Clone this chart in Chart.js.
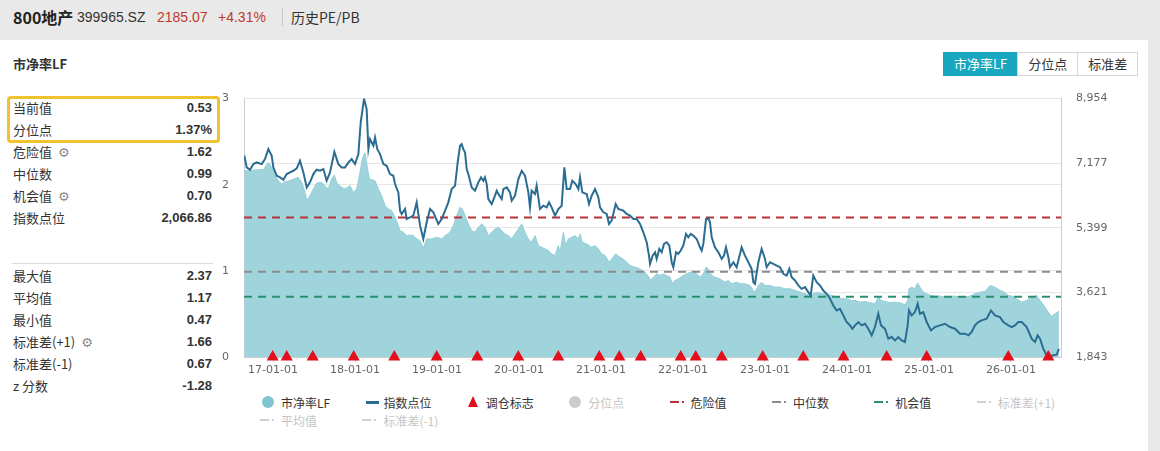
<!DOCTYPE html>
<html>
<head>
<meta charset="utf-8">
<script src="https://cdn.jsdelivr.net/npm/chart.js@4.4.1/dist/chart.umd.min.js"></script>
<style>
    body { margin: 0; width: 1160px; height: 451px; background: #e9e9e9; font-family: "Noto Sans CJK SC", "Noto Sans", sans-serif; color: #333; position: relative; overflow: hidden; }
    .top span { position: absolute; top: 7px; font-size: 14px; line-height: 20px; white-space: nowrap; }
    .top .name { font-weight: 700; font-size: 16px; color: #222; }
    .top .red { color: #c0392b; font-family: "Liberation Sans", Arial, sans-serif; }
    .top .code { font-family: "Liberation Sans", Arial, sans-serif; }
    .top .sep { width: 1px; height: 18px; background: #c8c8c8; top: 8px; }
    .card { position: absolute; left: 0; top: 40px; width: 1148px; height: 420px; background: #fff; }
    .title { position: absolute; left: 13px; top: 54px; font-size: 13px; font-weight: 700; color: #333; }
    .btns { position: absolute; left: 943px; top: 52px; display: flex; height: 24px; }
    .btns div { border: 1px solid #d6d6d6; font-size: 13px; line-height: 22px; padding: 0 10px; background: #fff; color: #333; margin-left: -1px; }
    .btns .on { background: #19a6bf; border-color: #19a6bf; color: #fff; margin-left: 0; }
    .stats .row { position: absolute; left: 13px; width: 199px; height: 20px; font-size: 13px; line-height: 20px; }
    .stats .row b { position: absolute; right: 0; top: 0; font-family: "Liberation Sans", Arial, sans-serif; font-size: 13px; color: #333; }
    .gear { color: #8a8a8a; font-size: 13px; margin-left: 6px; font-family: "DejaVu Sans", sans-serif; }
    .hl { position: absolute; left: 7px; top: 96px; width: 207px; height: 41px; border: 3px solid #f0c22e; border-radius: 4px; }
    .line { position: absolute; left: 12px; top: 263px; width: 201px; height: 1px; background: #dcdcdc; }
    #wrap { position: absolute; left: 200px; top: 77px; width: 950px; height: 310px; }
    .legend { position: absolute; left: 260px; top: 393px; width: 840px; display: flex; flex-wrap: wrap; }
    .legend .it { width: 102.4px; height: 18px; display: flex; align-items: center; font-size: 12px; color: #333; }
    .legend .it.off { color: #c4c4c4; }
    .legend .ic { width: 21px; height: 18px; position: relative; flex: none; }
    .ic .dot { position: absolute; left: 2px; top: 3px; width: 12px; height: 12px; border-radius: 50%; }
    .ic .bar { position: absolute; left: 4px; top: 8px; width: 13px; height: 3px; }
    .ic .tri { position: absolute; left: 3px; top: 3px; width: 0; height: 0; border-left: 5px solid transparent; border-right: 5px solid transparent; border-bottom: 11px solid #e3101b; }
    .ic .dash { position: absolute; left: 0px; top: 8px; width: 9px; height: 2px; }
    .ic .pt { position: absolute; left: 12px; top: 8px; width: 2px; height: 2px; }
</style>
</head>
<body>
<div class="top">
    <span class="name" style="left:13px">800地产</span>
    <span class="code" style="left:77px">399965.SZ</span>
    <span class="red" style="left:157px">2185.07</span>
    <span class="red" style="left:218px">+4.31%</span>
    <span class="sep" style="left:282px"></span>
    <span style="left:291px">历史PE/PB</span>
</div>
<div class="card"></div>
<div class="title">市净率LF</div>
<div class="btns"><div class="on">市净率LF</div><div>分位点</div><div>标准差</div></div>

<div class="stats" id="stats"></div>
<div class="hl"></div>
<div class="line"></div>

<div id="wrap"><canvas id="chartPB" width="950" height="310"></canvas></div>
<div class="legend" id="legend"></div>

<script>
// 统计
const statLabels = ['当前值', '分位点', '危险值', '中位数', '机会值', '指数点位', '最大值', '平均值', '最小值', '标准差(+1)', '标准差(-1)', 'z 分数'];
const statValues = ['0.53', '1.37%', '1.62', '0.99', '0.70', '2,066.86', '2.37', '1.17', '0.47', '1.66', '0.67', '-1.28'];
const statGear = ['危险值', '机会值', '标准差(+1)'];
const statTops = [98, 120, 142, 164, 186, 208, 266, 288, 310, 332, 354, 376];

// 线
const dangerValue = 1.62;
const medianValue = 0.99;
const chanceValue = 0.70;

// x 轴（年份，17 = 2017-01-01）
const xMin = 16.646;
const xMax = 26.61;
const xTicks = [17, 18, 19, 20, 21, 22, 23, 24, 25, 26];
const xTickLabels = ['17-01-01', '18-01-01', '19-01-01', '20-01-01', '21-01-01', '22-01-01', '23-01-01', '24-01-01', '25-01-01', '26-01-01'];
const pbTicks = [0, 1, 2, 3];
const idxTicks = [1843, 3621, 5399, 7177, 8954];

// 市净率LF
const pbYears = [16.65, 16.72, 16.801, 16.882, 16.943, 16.984, 17.024, 17.065, 17.106, 17.146, 17.207, 17.268, 17.309, 17.35, 17.39, 17.411, 17.451, 17.492, 17.532, 17.593, 17.634, 17.675, 17.715, 17.748, 17.776, 17.817, 17.878, 17.939, 17.98, 18.02, 18.053, 18.094, 18.122, 18.15, 18.175, 18.203, 18.244, 18.285, 18.325, 18.366, 18.407, 18.447, 18.488, 18.528, 18.549, 18.589, 18.63, 18.671, 18.711, 18.752, 18.793, 18.833, 18.874, 18.935, 18.996, 19.057,
    19.098, 19.159, 19.199, 19.24, 19.281, 19.309, 19.342, 19.382, 19.423, 19.463, 19.504, 19.545, 19.585, 19.626, 19.667, 19.707, 19.748, 19.789, 19.829, 19.87, 19.911, 19.951, 19.992, 20.033, 20.073, 20.114, 20.154, 20.195, 20.236, 20.276, 20.317, 20.358, 20.398, 20.439, 20.48, 20.5, 20.541, 20.569, 20.602, 20.642, 20.683, 20.724, 20.744, 20.772, 20.825, 20.886, 20.927, 20.968, 21.008, 21.049, 21.098, 21.13, 21.179, 21.232, 21.293, 21.354, 21.415, 21.476, 21.537, 21.585,
    21.598, 21.638, 21.679, 21.72, 21.76, 21.801, 21.841, 21.874, 21.902, 21.943, 22.004, 22.045, 22.085, 22.126, 22.167, 22.207, 22.248, 22.281, 22.309, 22.35, 22.39, 22.451, 22.512, 22.553, 22.593, 22.654, 22.695, 22.756, 22.817, 22.858, 22.878, 22.919, 22.959, 23.0, 23.061, 23.122, 23.183, 23.244, 23.305, 23.366, 23.427, 23.488, 23.549, 23.589, 23.63, 23.691, 23.752, 23.813, 23.874, 23.935, 23.996, 24.057,
    24.098, 24.159, 24.22, 24.28, 24.341, 24.382, 24.415, 24.463, 24.524, 24.585, 24.646, 24.707, 24.74, 24.756, 24.789, 24.829, 24.862, 24.89, 24.931, 24.972, 25.024, 25.073, 25.134, 25.195, 25.256, 25.317, 25.378, 25.439, 25.5, 25.561, 25.622, 25.683, 25.744, 25.805, 25.866, 25.907, 25.968, 26.008, 26.069, 26.13, 26.191, 26.252, 26.313, 26.354, 26.415, 26.455, 26.496, 26.537, 26.585];
const pbValues = [2.162, 2.162, 2.174, 2.174, 2.259, 2.201, 2.104, 2.046, 2.008, 2.035, 2.046, 2.073, 2.085, 2.027, 1.911, 1.815, 1.873, 1.95, 2.019, 2.027, 1.989, 1.95, 2.066, 2.112, 2.027, 1.981, 1.95, 1.989, 1.911, 1.95, 2.104, 2.317, 2.37, 2.201, 2.066, 2.058, 2.046, 1.95, 1.873, 1.757, 1.718, 1.699, 1.622, 1.525, 1.467, 1.448, 1.409, 1.417, 1.409, 1.371, 1.351, 1.263, 1.371, 1.371, 1.39, 1.371,
    1.409, 1.448, 1.525, 1.641, 1.738, 1.718, 1.641, 1.545, 1.467, 1.448, 1.506, 1.545, 1.506, 1.409, 1.448, 1.487, 1.506, 1.467, 1.429, 1.409, 1.371, 1.429, 1.487, 1.545, 1.448, 1.371, 1.332, 1.409, 1.294, 1.274, 1.255, 1.236, 1.197, 1.178, 1.294, 1.216, 1.448, 1.294, 1.371, 1.39, 1.409, 1.371, 1.429, 1.332, 1.313, 1.274, 1.294, 1.255, 1.197, 1.178, 1.101, 1.139, 1.197, 1.158, 1.12, 1.062, 1.043, 1.023, 0.985, 0.927,
    0.888, 0.927, 0.965, 0.946, 0.965, 0.946, 0.927, 0.85, 0.888, 0.907, 0.946, 0.965, 0.985, 0.985, 0.965, 0.927, 0.965, 1.043, 1.023, 0.946, 0.927, 0.907, 0.869, 0.888, 0.85, 0.869, 0.85, 0.85, 0.83, 0.772, 0.753, 0.83, 0.869, 0.83, 0.83, 0.811, 0.811, 0.792, 0.792, 0.772, 0.753, 0.734, 0.714, 0.734, 0.753, 0.734, 0.734, 0.714, 0.695, 0.676, 0.676, 0.657,
    0.657, 0.637, 0.645, 0.63, 0.618, 0.695, 0.657, 0.645, 0.63, 0.637, 0.63, 0.606, 0.657, 0.792, 0.811, 0.792, 0.861, 0.811, 0.753, 0.734, 0.714, 0.707, 0.707, 0.695, 0.703, 0.707, 0.695, 0.695, 0.707, 0.734, 0.753, 0.761, 0.83, 0.811, 0.772, 0.761, 0.714, 0.707, 0.676, 0.637, 0.657, 0.695, 0.714, 0.657, 0.579, 0.521, 0.47, 0.502, 0.53];

// 指数点位
const idxYears = [16.65, 16.679, 16.72, 16.76, 16.801, 16.862, 16.902, 16.943, 16.984, 17.004, 17.045, 17.085, 17.126, 17.167, 17.207, 17.248, 17.289, 17.329, 17.37, 17.411, 17.451, 17.492, 17.532, 17.573, 17.614, 17.654, 17.695, 17.748, 17.797, 17.837, 17.878, 17.919, 17.959, 18.0, 18.041, 18.069, 18.11, 18.142, 18.163, 18.183, 18.224, 18.244, 18.272, 18.305, 18.346, 18.386, 18.427, 18.467, 18.488, 18.528, 18.549, 18.569, 18.61, 18.63, 18.671, 18.711, 18.752, 18.793, 18.833, 18.874, 18.915, 18.955, 19.016, 19.057,
    19.098, 19.138, 19.179, 19.22, 19.252, 19.281, 19.301, 19.321, 19.342, 19.362, 19.382, 19.423, 19.463, 19.504, 19.537, 19.565, 19.585, 19.606, 19.626, 19.667, 19.707, 19.728, 19.748, 19.789, 19.809, 19.85, 19.89, 19.911, 19.951, 19.992, 20.033, 20.073, 20.114, 20.134, 20.154, 20.195, 20.215, 20.256, 20.297, 20.337, 20.366, 20.398, 20.439, 20.48, 20.52, 20.553, 20.581, 20.622, 20.65, 20.691, 20.724, 20.744, 20.772, 20.825, 20.854, 20.886, 20.927, 20.968, 20.988, 21.029, 21.069, 21.098, 21.13, 21.179, 21.211, 21.272, 21.313, 21.354, 21.394, 21.435, 21.476, 21.516, 21.557, 21.585,
    21.598, 21.63, 21.659, 21.679, 21.711, 21.74, 21.768, 21.801, 21.833, 21.862, 21.882, 21.915, 21.943, 21.972, 22.004, 22.037, 22.065, 22.094, 22.126, 22.167, 22.207, 22.228, 22.248, 22.281, 22.309, 22.329, 22.35, 22.39, 22.431, 22.472, 22.5, 22.524, 22.553, 22.573, 22.614, 22.654, 22.675, 22.715, 22.756, 22.797, 22.837, 22.858, 22.878, 22.919, 22.959, 23.0, 23.02, 23.061, 23.102, 23.142, 23.183, 23.224, 23.264, 23.297, 23.325, 23.366, 23.407, 23.447, 23.488, 23.528, 23.557, 23.589, 23.63, 23.671, 23.711, 23.752, 23.793, 23.833, 23.874, 23.915, 23.955, 23.996, 24.037, 24.065,
    24.098, 24.138, 24.179, 24.22, 24.26, 24.301, 24.341, 24.382, 24.415, 24.463, 24.504, 24.545, 24.585, 24.626, 24.667, 24.707, 24.74, 24.756, 24.789, 24.829, 24.862, 24.89, 24.931, 24.972, 25.024, 25.073, 25.134, 25.195, 25.256, 25.317, 25.378, 25.439, 25.48, 25.52, 25.561, 25.602, 25.642, 25.703, 25.756, 25.805, 25.866, 25.907, 25.968, 26.008, 26.049, 26.089, 26.13, 26.191, 26.252, 26.293, 26.325, 26.354, 26.394, 26.435, 26.476, 26.516, 26.557, 26.585];
const idxValues = [7380, 7060, 6996, 7151, 7197, 7151, 7289, 7563, 7380, 7060, 6831, 6785, 6721, 6877, 6923, 6968, 7032, 7243, 6923, 6511, 6648, 6877, 6996, 6968, 7014, 6694, 6923, 7490, 7151, 7060, 7060, 7197, 7289, 7151, 7426, 8295, 8954, 8661, 7563, 7838, 7655, 7883, 7563, 7426, 7151, 7106, 6877, 6831, 6602, 6373, 5870, 5779, 5916, 5641, 5687, 5733, 6099, 5458, 5092, 5550, 5916, 5824, 5504, 5641,
    5870, 6099, 6465, 6556, 7197, 7655, 7700, 7563, 7471, 7014, 6877, 6511, 6419, 6648, 6785, 6694, 6785, 6602, 6190, 6053, 6282, 6419, 6328, 6190, 6465, 6511, 6373, 6145, 6282, 6739, 6968, 6831, 6373, 5962, 6419, 6328, 6556, 5916, 6007, 5962, 6099, 5962, 5733, 5916, 6007, 7060, 6465, 6465, 6694, 6602, 6465, 6785, 6373, 6328, 6053, 6282, 6465, 6236, 5962, 5824, 5779, 5504, 5596, 6053, 5916, 5870, 5779, 5733, 5641, 5641, 5504, 5275, 5001, 4634,
    4406, 4634, 4726, 4543, 4817, 4726, 4955, 5001, 4909, 4451, 4314, 4726, 4680, 4772, 4909, 5229, 5138, 5229, 5184, 5092, 4863, 4772, 4955, 5641, 5660, 5550, 5138, 4863, 4726, 4543, 4634, 4863, 4589, 4314, 4451, 4314, 4497, 4863, 4634, 4451, 4268, 3902, 3857, 4451, 4817, 4543, 4314, 4451, 4406, 4360, 4314, 4131, 4085, 4268, 4040, 3948, 3811, 3719, 3765, 3628, 3536, 4085, 3902, 3811, 3673, 3582, 3445, 3262, 3124, 3170, 2987, 2804, 2713, 2621,
    2713, 2804, 2713, 2758, 2621, 2438, 2667, 3033, 2713, 2621, 2347, 2392, 2301, 2392, 2301, 2255, 2713, 3124, 2987, 3079, 3307, 3033, 3079, 2804, 2575, 2667, 2713, 2758, 2667, 2621, 2484, 2484, 2438, 2529, 2713, 2804, 2850, 2896, 3124, 2987, 2941, 2804, 2713, 2667, 2713, 2804, 2804, 2667, 2347, 2255, 2438, 2347, 2072, 1889, 1862, 1889, 1907, 2067];

// 调仓标志
const tradeMarks = [16.996, 17.167, 17.484, 17.984, 18.479, 18.996, 19.491, 19.991, 20.479, 20.979, 21.223, 21.484, 21.972, 22.155, 22.472, 22.972, 23.467, 23.957, 24.484, 24.972, 25.967, 26.455];

// 图例
const legendItems = [
    { name: '市净率LF', icon: 'dot', color: '#7fc6d1', on: true },
    { name: '指数点位', icon: 'bar', color: '#2b6d92', on: true },
    { name: '调仓标志', icon: 'tri', color: '#e3101b', on: true },
    { name: '分位点', icon: 'dot', color: '#cccccc', on: false },
    { name: '危险值', icon: 'dash', color: '#b8323a', on: true },
    { name: '中位数', icon: 'dash', color: '#8c8c8c', on: true },
    { name: '机会值', icon: 'dash', color: '#2b9070', on: true },
    { name: '标准差(+1)', icon: 'dash', color: '#d0d0d0', on: false },
    { name: '平均值', icon: 'dash', color: '#d0d0d0', on: false },
    { name: '标准差(-1)', icon: 'dash', color: '#d0d0d0', on: false },
];

function montarEstatisticas() {
    let html = '';
    statLabels.forEach((l, i) => {
        let gear = statGear.includes(l) ? '<span class="gear">⚙</span>' : '';
        html += '<div class="row" style="top:' + statTops[i] + 'px">' + l + gear + '<b>' + statValues[i] + '</b></div>';
    });
    document.getElementById('stats').innerHTML = html;
}

function montarLegenda() {
    let html = '';
    legendItems.forEach(it => {
        let ic = '';
        if (it.icon === 'dot') ic = '<span class="dot" style="background:' + it.color + '"></span>';
        else if (it.icon === 'bar') ic = '<span class="bar" style="background:' + it.color + '"></span>';
        else if (it.icon === 'tri') ic = '<span class="tri"></span>';
        else ic = '<span class="dash" style="background:' + it.color + '"></span><span class="pt" style="background:' + it.color + '"></span>';
        html += '<div class="it' + (it.on ? '' : ' off') + '"><span class="ic">' + ic + '</span>' + it.name + '</div>';
    });
    document.getElementById('legend').innerHTML = html;
}

function linhaRef(valor, cor) {
    return {
        data: [{ x: xMin, y: valor }, { x: xMax, y: valor }],
        yAxisID: 'y',
        borderColor: cor,
        borderWidth: 2,
        borderDash: [8, 6],
        pointRadius: 0,
        fill: false,
    };
}

function desenharGrafico() {
    let tickFont = { family: 'DejaVu Sans', size: 11 };
    new Chart(document.getElementById('chartPB'), {
        type: 'line',
        data: {
            datasets: [
                {
                    data: tradeMarks.map(x => ({ x: x, y: 0 })),
                    yAxisID: 'y',
                    showLine: false,
                    pointStyle: 'triangle',
                    pointRadius: 7,
                    pointBackgroundColor: '#e3101b',
                    pointBorderWidth: 0,
                    clip: false,
                },
                {
                    data: idxYears.map((x, i) => ({ x: x, y: idxValues[i] })),
                    yAxisID: 'y2',
                    borderColor: '#2b6d92',
                    borderWidth: 2,
                    pointRadius: 0,
                    tension: 0,
                    fill: false,
                },
                linhaRef(dangerValue, '#b8323a'),
                linhaRef(medianValue, '#8c8c8c'),
                linhaRef(chanceValue, '#2b9070'),
                {
                    data: pbYears.map((x, i) => ({ x: x, y: pbValues[i] })),
                    yAxisID: 'y',
                    borderColor: '#92cdd6',
                    borderWidth: 1,
                    backgroundColor: '#a0d4dc',
                    pointRadius: 0,
                    tension: 0,
                    fill: 'origin',
                },
            ]
        },
        options: {
            responsive: false,
            animation: false,
            layout: { padding: { top: 3, left: 0, right: 0, bottom: 0 } },
            plugins: { legend: { display: false }, tooltip: { enabled: false } },
            scales: {
                x: {
                    type: 'linear',
                    min: xMin,
                    max: xMax,
                    afterBuildTicks: s => { s.ticks = xTicks.map(v => ({ value: v })); },
                    afterFit: s => { s.height = 30; },
                    grid: { drawOnChartArea: false, tickLength: 5, tickColor: '#cccccc' },
                    border: { color: '#cccccc' },
                    ticks: {
                        font: tickFont, color: '#666', padding: 2, maxRotation: 0, autoSkip: false,
                        callback: v => xTickLabels[xTicks.indexOf(v)],
                    },
                },
                y: {
                    position: 'left',
                    min: 0,
                    max: 3,
                    afterBuildTicks: s => { s.ticks = pbTicks.map(v => ({ value: v })); },
                    afterFit: s => { s.width = 44; },
                    grid: { color: '#e6e6e6', drawTicks: false },
                    border: { color: '#cccccc' },
                    ticks: { font: tickFont, color: '#666', padding: 15 },
                },
                y2: {
                    position: 'right',
                    min: 1843,
                    max: 8954,
                    afterBuildTicks: s => { s.ticks = idxTicks.map(v => ({ value: v })); },
                    afterFit: s => { s.width = 89; },
                    grid: { color: '#e6e6e6', drawTicks: false },
                    border: { color: '#cccccc' },
                    ticks: { font: tickFont, color: '#666', padding: 15, callback: v => v.toLocaleString('en-US') },
                },
            }
        }
    });
}

montarEstatisticas();
montarLegenda();
desenharGrafico();
</script>
</body>
</html>
